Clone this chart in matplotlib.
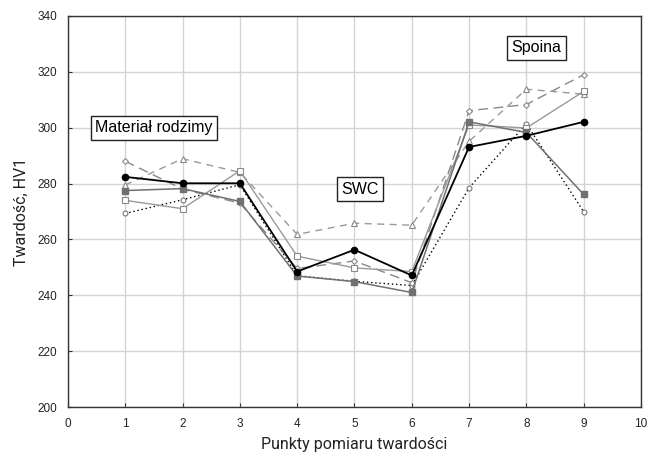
import matplotlib
matplotlib.use("Agg")
import matplotlib.pyplot as plt

points = [1, 2, 3, 4, 5, 6, 7, 8, 9]
s_black = [282.4, 280.1, 280.1, 248.5, 256.3, 247.1, 293.1, 297.1, 302.1]
s_fsq = [277.5, 278.2, 273.6, 246.9, 244.9, 241.0, 302.1, 298.3, 276.1]
s_osq = [274.0, 271.0, 284.6, 254.0, 249.8, 248.5, 301.0, 299.9, 313.0]
s_tri = [279.5, 288.9, 284.0, 261.8, 265.8, 265.1, 295.1, 313.8, 312.0]
s_dia = [288.0, 278.0, 273.0, 249.6, 252.3, 244.5, 306.1, 308.3, 319.0]
s_dot = [269.3, 274.2, 279.6, 247.0, 245.0, 243.5, 278.5, 301.4, 269.9]

fig = plt.figure(figsize=(6.47, 4.57), dpi=100)
ax = fig.add_axes([0.105, 0.1094, 0.8857, 0.8556])

ax.plot(points, s_dot, color='black', linestyle=(0, (1, 2)), lw=1.0,
        marker='o', ms=3.5, mfc='white', mec='#777777', mew=0.8, zorder=3)
ax.plot(points, s_dia, color='#888888', linestyle=(0, (7, 4)), lw=1.0,
        marker='D', ms=3, mfc='white', mec='#888888', mew=0.8, zorder=3)
ax.plot(points, s_tri, color='#999999', linestyle=(0, (5, 4)), lw=1.0,
        marker='^', ms=4.5, mfc='white', mec='#888888', mew=0.8, zorder=3)
ax.plot(points, s_osq, color='#999999', linestyle='-', lw=1.0,
        marker='s', ms=4.5, mfc='white', mec='#888888', mew=0.8, zorder=3)
ax.plot(points, s_fsq, color='#707070', linestyle='-', lw=1.1,
        marker='s', ms=5, mfc='#707070', mec='#707070', zorder=4)
ax.plot(points, s_black, color='black', linestyle='-', lw=1.3,
        marker='o', ms=4.5, mfc='black', mec='black', zorder=5)

ax.set_xlim(0, 10)
ax.set_ylim(200, 340)
ax.set_xticks(range(0, 11))
ax.set_yticks(range(200, 341, 20))
ax.grid(True, color='#d4d4d4', lw=1.0, zorder=0)
ax.set_axisbelow(True)
for sp in ax.spines.values():
    sp.set_color('#333333')
    sp.set_linewidth(1.0)
ax.tick_params(direction='in', length=3, width=0.8, labelsize=8.5, pad=8,
               colors='#333333', labelcolor='#222222')
for lab in ax.get_xticklabels() + ax.get_yticklabels():
    lab.set_family('Liberation Sans')

ax.set_xlabel('Punkty pomiaru twardości', fontsize=11.5, family='Roboto', color='#222222', labelpad=5)
ax.set_ylabel('Twardość, HV1', fontsize=11.5, family='Roboto', color='#222222', labelpad=6)

box = dict(boxstyle='square,pad=0.28', fc='white', ec='#222222', lw=1.0)
ax.text(1.5, 300, 'Materiał rodzimy', ha='center', va='center', fontsize=11.5,
        family='Liberation Sans', bbox=box, zorder=6)
ax.text(5.1, 278, 'SWC', ha='center', va='center', fontsize=11.5,
        family='Liberation Sans', bbox=box, zorder=6)
ax.text(8.18, 328.6, 'Spoina', ha='center', va='center', fontsize=11.5,
        family='Liberation Sans', bbox=box, zorder=6)

fig.savefig('out.png', dpi=100)
